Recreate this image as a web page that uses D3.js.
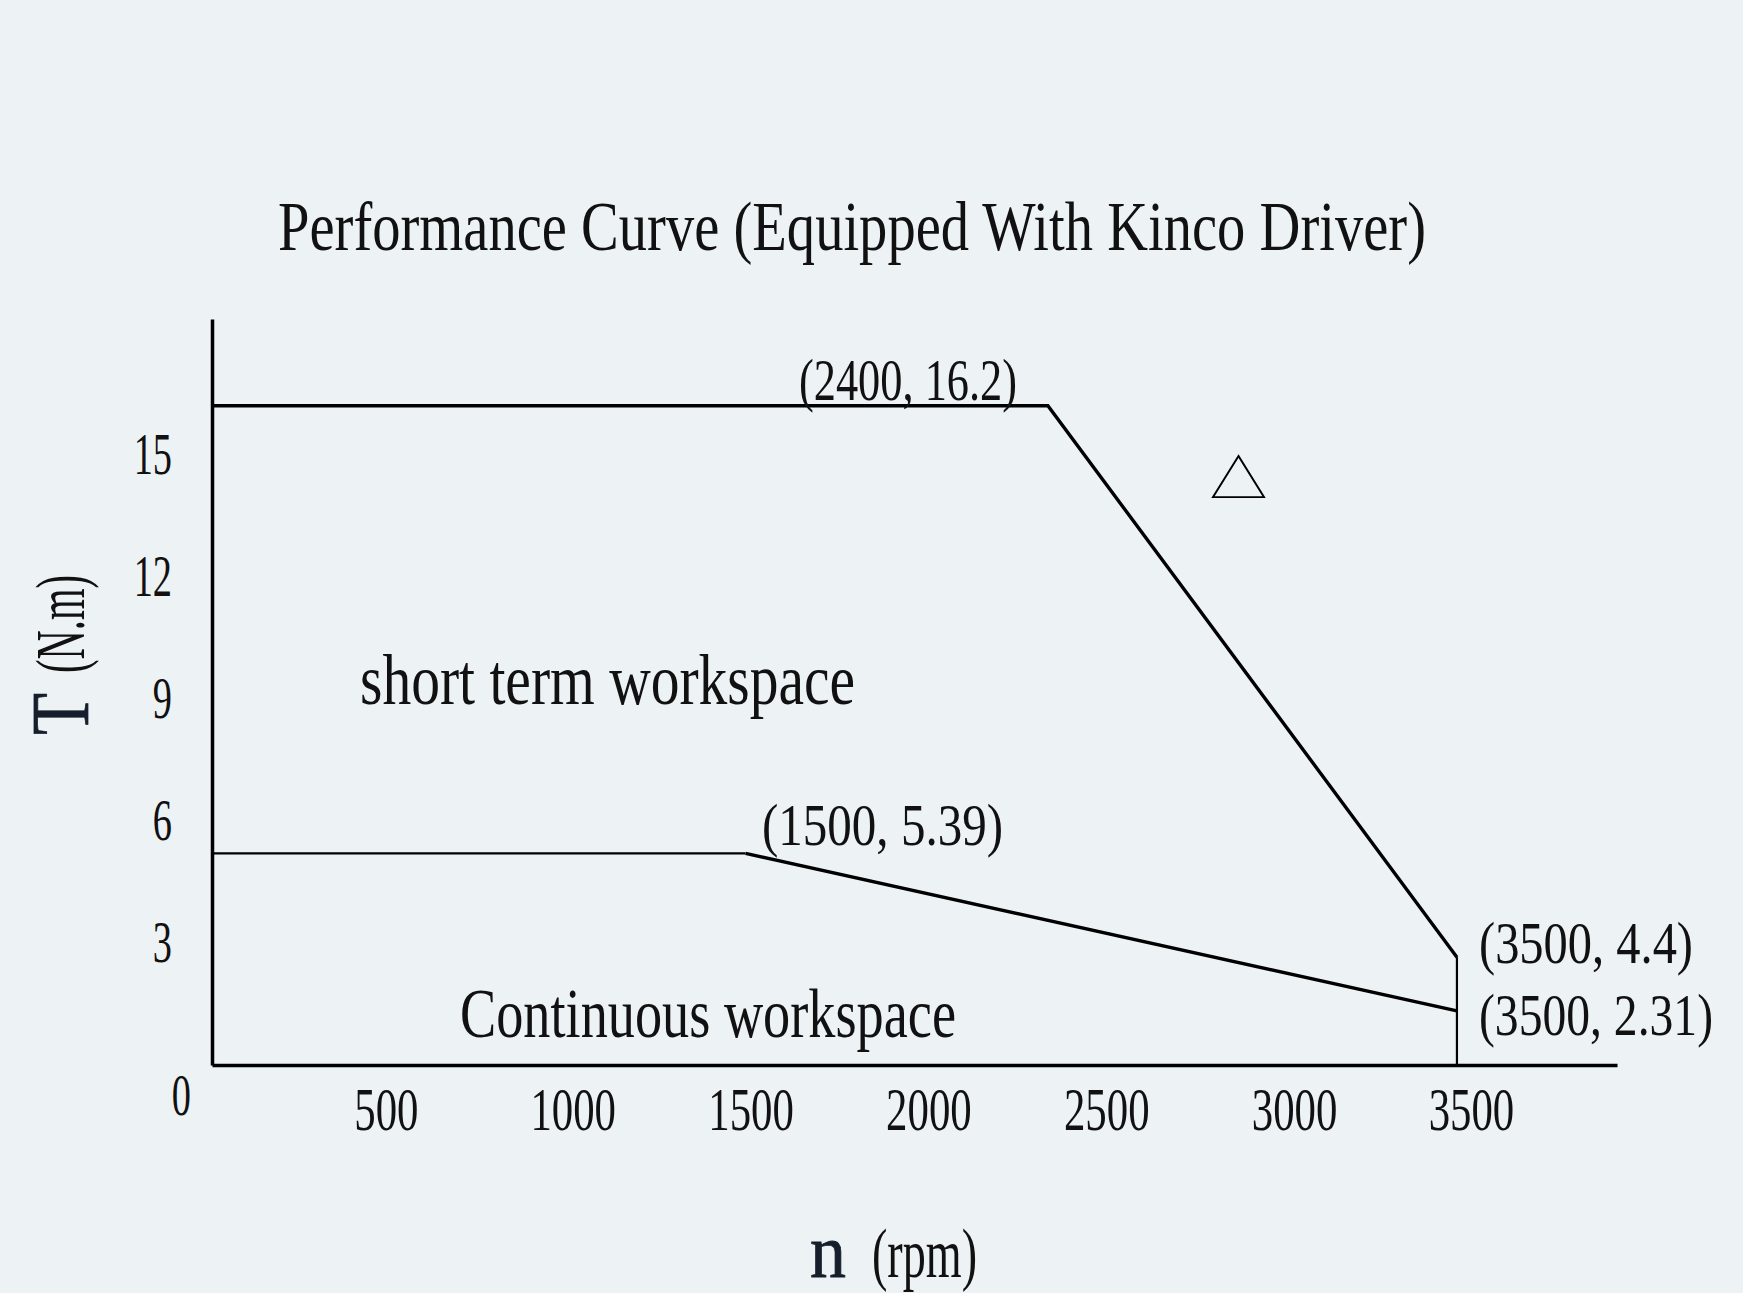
<!DOCTYPE html>
<html>
<head>
<meta charset="utf-8">
<script src="https://cdn.jsdelivr.net/npm/d3@7"></script>
<style>
  html, body { margin: 0; padding: 0; background: #edf2f5; }
  svg { display: block; }
  text { font-family: "Liberation Serif", "DejaVu Serif", serif; fill: #111; }
</style>
</head>
<body>
<svg id="chart" width="1743" height="1293"></svg>
<script>
// ---------------- data ----------------
const titleText = "Performance Curve (Equipped With Kinco Driver)";
const xTickValues = [500, 1000, 1500, 2000, 2500, 3000, 3500];
const yTickValues = [3, 6, 9, 12, 15];
// peak (short term) torque boundary, values as drawn against the axes
const peakRpm    = [0, 2350, 3500, 3500];
const peakTorque = [16.2, 16.2, 2.65, 0];
// continuous torque boundary, values as drawn against the axes
const contRpm    = [0, 1500, 3500];
const contTorque = [5.2, 5.2, 1.33];
// point annotation texts
const annotTexts = ["(2400, 16.2)", "(1500, 5.39)", "(3500, 4.4)", "(3500, 2.31)"];
const regionTexts = ["short term workspace", "Continuous workspace"];

// ---------------- layout ----------------
const W = 1743, H = 1293;
const svg = d3.select("#chart");
svg.append("rect").attr("width", W).attr("height", H).attr("fill", "#edf2f5");

const x = d3.scaleLinear().domain([0, 3950]).range([212, 1617]);
const y = d3.scaleLinear().domain([0, 18.33]).range([1065, 319]);

function squeeze(sel, r) {
  sel.each(function () {
    const L = this.getComputedTextLength();
    d3.select(this).attr("textLength", L * r).attr("lengthAdjust", "spacingAndGlyphs");
  });
}
function fitW(sel, w) {
  sel.attr("textLength", w).attr("lengthAdjust", "spacingAndGlyphs");
}

// title
svg.append("text").attr("x", 278).attr("y", 250)
  .attr("font-size", 70).text(titleText).call(fitW, 1148);

// axes
const xAxis = d3.axisBottom(x).tickValues(xTickValues).tickFormat(d3.format("d"))
  .tickSize(0).tickSizeOuter(0).tickPadding(21);
const yAxis = d3.axisLeft(y).tickValues(yTickValues).tickFormat(d3.format("d"))
  .tickSize(0).tickSizeOuter(0).tickPadding(40);

const gx = svg.append("g").attr("transform", `translate(0,${y(0)})`).call(xAxis);
const gy = svg.append("g").attr("transform", `translate(${x(0)},0)`).call(yAxis);
[gx, gy].forEach(g => {
  g.select(".domain").attr("stroke", "#000").attr("stroke-width", 3.5);
  g.selectAll("text").attr("font-family", "Liberation Serif").attr("fill", "#111");
});
const xNudge = { 500: -9, 3000: 10, 3500: 9 };
gx.selectAll(".tick text").attr("font-size", 62)
  .attr("dx", d => 5 + (xNudge[d] || 0)).call(squeeze, 0.69);
gy.selectAll(".tick text").attr("font-size", 59).call(squeeze, 0.65);

// corner zero label
svg.append("text").attr("x", x(0) - 21).attr("y", y(0) + 50)
  .attr("text-anchor", "end").attr("font-size", 59).text("0").call(squeeze, 0.65);

// curves
const line = d3.line().x(d => x(d[0])).y(d => y(d[1]));
const peakPts = peakRpm.map((r, i) => [r, peakTorque[i]]);
const contPts = contRpm.map((r, i) => [r, contTorque[i]]);

svg.append("path").attr("d", line(peakPts.slice(0, 3)))
  .attr("fill", "none").attr("stroke", "#000").attr("stroke-width", 3.4).attr("stroke-linejoin", "miter");
svg.append("path").attr("d", line(peakPts.slice(2, 4)))
  .attr("fill", "none").attr("stroke", "#000").attr("stroke-width", 2.2);
svg.append("path").attr("d", line(contPts.slice(0, 2)))
  .attr("fill", "none").attr("stroke", "#000").attr("stroke-width", 2.2);
svg.append("path").attr("d", line(contPts.slice(1, 3)))
  .attr("fill", "none").attr("stroke", "#000").attr("stroke-width", 3.4);

// annotations
const annotLayout = [
  { x: 799, y: 400, w: 218 },
  { x: 762, y: 845, w: 241 },
  { x: 1479, y: 963, w: 214 },
  { x: 1479, y: 1035, w: 234 }
];
annotTexts.forEach((t, i) => {
  const p = annotLayout[i];
  svg.append("text").attr("x", p.x).attr("y", p.y).attr("font-size", 59)
    .text(t).call(fitW, p.w);
});

// region labels
const regionLayout = [
  { x: 360, y: 704, w: 495, fs: 72 },
  { x: 460, y: 1037, w: 496, fs: 70 }
];
regionTexts.forEach((t, i) => {
  const p = regionLayout[i];
  svg.append("text").attr("x", p.x).attr("y", p.y).attr("font-size", p.fs)
    .text(t).call(fitW, p.w);
});

// triangle marker
const tri = d3.symbol().type(d3.symbolTriangle).size(Math.pow(51 / (2 * Math.sqrt(3)), 2) * 3 * Math.sqrt(3));
svg.append("path").attr("d", tri())
  .attr("transform", "translate(1238.5,483.4) scale(1,0.93)")
  .attr("fill", "none").attr("stroke", "#000").attr("stroke-width", 2);

// y axis title (rotated)
const gyt = svg.append("g").attr("transform", "translate(88,735) rotate(-90)");
gyt.append("text").attr("x", 0).attr("y", 0).attr("font-size", 82)
  .style("fill", "#161e2c").style("stroke", "#161e2c").style("stroke-width", 0.8)
  .text("T").call(fitW, 42);
gyt.append("text").attr("x", 62).attr("y", -4).attr("font-size", 70)
  .text("(N.m)").call(fitW, 98);

// x axis title
svg.append("text").attr("x", 810).attr("y", 1277).attr("font-size", 76)
  .style("fill", "#161e2c").style("stroke", "#161e2c").style("stroke-width", 0.8)
  .text("n").call(fitW, 36);
svg.append("text").attr("x", 872).attr("y", 1277).attr("font-size", 70)
  .text("(rpm)").call(fitW, 105);
</script>
</body>
</html>
